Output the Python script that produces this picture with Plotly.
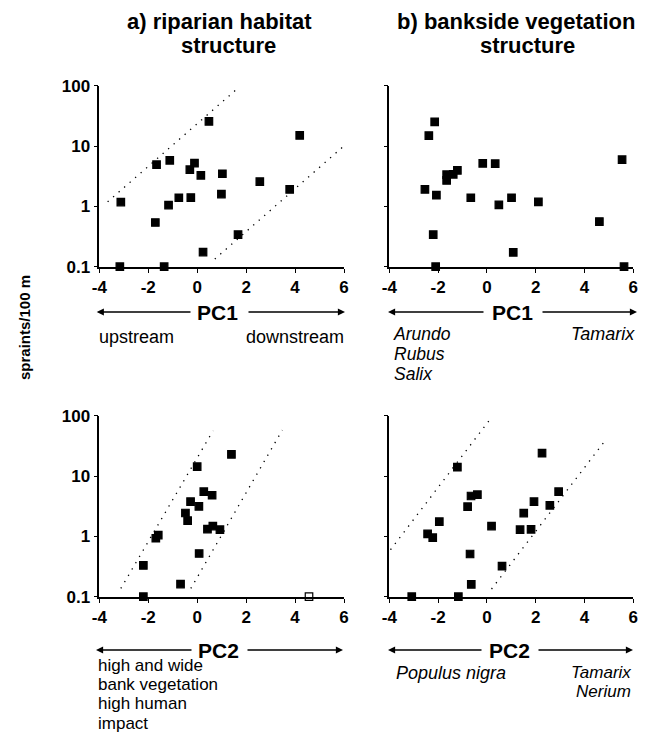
import plotly.graph_objects as go

# page is 654x741; the html body adds an 8px margin, so the figure is a bit smaller
PAGE_OFF = 8
W, H = 654 - 2 * PAGE_OFF, 741 - PAGE_OFF
FONT = "Liberation Sans, Arial, Helvetica, sans-serif"

# ---------------- data ----------------
# a) riparian habitat structure, PC1
a_x = [-3.12, -3.16, -1.35, -1.66, -1.12, -1.71, -1.17, -0.75, -0.26, -0.30,
       -0.11, 0.48, 0.15, 0.24, 1.03, 0.99, 1.67, 2.56, 3.78, 4.19]
a_y = [1.18, 0.1, 0.1, 4.9, 5.8, 0.54, 1.05, 1.39, 1.4, 4.05,
       5.2, 25.6, 3.27, 0.175, 3.47, 1.6, 0.34, 2.57, 1.91, 15.0]
a_upper_x = [-3.66, 1.61]
a_upper_y = [1.19, 87.0]
a_lower_x = [0.72, 6.43]
a_lower_y = [0.134, 14.3]

# b) bankside vegetation structure, PC1
b_x = [-2.14, -2.38, -2.54, -2.07, -2.20, -2.10, -1.65, -1.65, -1.38, -1.21,
       -0.66, -0.17, 0.34, 0.49, 1.01, 1.08, 2.11, 4.61, 5.54, 5.62]
b_y = [25.2, 14.9, 1.91, 1.53, 0.34, 0.1, 3.35, 2.69, 3.4, 3.95,
       1.39, 5.16, 5.1, 1.06, 1.39, 0.173, 1.19, 0.56, 5.94, 0.1]

# c) riparian habitat structure, PC2
c_x = [-2.20, -2.20, -1.69, -1.59, -0.68, -0.48, -0.39, -0.27, 0.0, 0.07,
       0.08, 0.27, 0.61, 0.42, 0.64, 0.93, 1.40]
c_y = [0.33, 0.1, 0.93, 1.05, 0.162, 2.44, 1.82, 3.76, 14.3, 3.14,
       0.52, 5.5, 4.8, 1.32, 1.48, 1.29, 22.9]
c_open_x = [4.57]
c_open_y = [0.1]
c_upper_x = [-3.12, 0.65]
c_upper_y = [0.137, 56.4]
c_lower_x = [-0.26, 3.48]
c_lower_y = [0.137, 57.8]

# d) bankside vegetation structure, PC2
d_x = [-3.08, -1.17, -2.43, -2.22, -1.95, -1.21, -0.79, -0.65, -0.39, -0.69,
       -0.64, 0.19, 0.62, 1.36, 1.51, 1.81, 1.93, 2.26, 2.58, 2.94]
d_y = [0.1, 0.1, 1.10, 0.95, 1.75, 14.0, 3.1, 4.67, 4.9, 0.51,
       0.16, 1.48, 0.32, 1.29, 2.43, 1.31, 3.76, 23.9, 3.27, 5.5]
d_upper_x = [-3.95, 0.19]
d_upper_y = [0.60, 93.8]
d_lower_x = [0.19, 4.84]
d_lower_y = [0.134, 38.4]

x_ticks = [-4, -2, 0, 2, 4, 6]
y_ticks = [0.1, 1, 10, 100]
y_ticktext = ["0.1", "1", "10", "100"]

# ---------------- figure ----------------
fig = go.Figure()

def px(x):
    return (x - PAGE_OFF) / W

def py(y):
    return 1 - (y - PAGE_OFF) / H

axes = {
    "a": ("x", "y"),
    "b": ("x2", "y2"),
    "c": ("x3", "y3"),
    "d": ("x4", "y4"),
}

def add_points(key, xs, ys, fill="black"):
    xa, ya = axes[key]
    fig.add_trace(go.Scatter(
        x=xs, y=ys, mode="markers", xaxis=xa, yaxis=ya, cliponaxis=False,
        marker=dict(symbol="square", size=7.5, color=fill,
                    line=dict(color="black", width=1.2)),
        hoverinfo="x+y"))

def add_line(key, xs, ys):
    xa, ya = axes[key]
    fig.add_trace(go.Scatter(
        x=xs, y=ys, mode="lines", xaxis=xa, yaxis=ya,
        line=dict(color="black", width=1.3, dash="1.3px,6px"),
        hoverinfo="skip"))

add_line("a", a_upper_x, a_upper_y)
add_line("a", a_lower_x, a_lower_y)
add_line("c", c_upper_x, c_upper_y)
add_line("c", c_lower_x, c_lower_y)
add_line("d", d_upper_x, d_upper_y)
add_line("d", d_lower_x, d_lower_y)
add_points("a", a_x, a_y)
add_points("b", b_x, b_y)
add_points("c", c_x, c_y)
add_points("c", c_open_x, c_open_y, fill="white")
add_points("d", d_x, d_y)

# domains from pixel positions (page pixels)
xl = [px(99.3), px(344.0)]
xr = [px(389.3), px(633.3)]
yt = [py(266.7), py(85.7)]
yb = [py(596.7), py(415.7)]

tickfont = dict(family=FONT, size=17, color="black", weight="bold")

def xaxis(domain, anchor):
    return dict(domain=domain, anchor=anchor, range=[-4, 6], tickvals=x_ticks,
                ticktext=[str(t) for t in x_ticks], showline=True,
                linecolor="black", linewidth=1.6, ticks="outside", ticklen=4,
                tickwidth=1.2, tickcolor="black", showgrid=False, zeroline=False,
                tickfont=tickfont, fixedrange=True, automargin=False)

def yaxis(domain, anchor, labels):
    return dict(domain=domain, anchor=anchor, type="log", range=[-1, 2],
                tickvals=y_ticks, ticktext=y_ticktext, showticklabels=labels,
                showline=True, linecolor="black", linewidth=1.6, ticks="outside",
                ticklen=4, tickwidth=1.2, tickcolor="black", showgrid=False,
                zeroline=False, tickfont=tickfont, fixedrange=True,
                automargin=False)

fig.update_layout(
    template="none",
    width=W, height=H, margin=dict(l=0, r=0, t=0, b=0, pad=0, autoexpand=False),
    paper_bgcolor="white", plot_bgcolor="white", showlegend=False,
    font=dict(family=FONT, color="black"),
    xaxis=xaxis(xl, "y"), yaxis=yaxis(yt, "x", True),
    xaxis2=xaxis(xr, "y2"), yaxis2=yaxis(yt, "x2", False),
    xaxis3=xaxis(xl, "y3"), yaxis3=yaxis(yb, "x3", True),
    xaxis4=xaxis(xr, "y4"), yaxis4=yaxis(yb, "x4", False),
)

ann = []

def text(s, x, y, size, xanchor="center", bold=False, italic=False, angle=0,
         align="left"):
    t = s
    if bold:
        t = "<b>" + t + "</b>"
    if italic:
        t = "<i>" + t + "</i>"
    ann.append(dict(text=t, x=px(x), y=py(y), xref="paper", yref="paper",
                    xanchor=xanchor, yanchor="middle", showarrow=False,
                    textangle=angle, align=align,
                    font=dict(family=FONT, size=size, color="black")))

def block(lines, x, y, size, spacing, xanchor="left", italic=False):
    # multi-line text with tight line spacing: base size sets the line pitch
    base = spacing / 1.3
    parts = []
    for ln in lines:
        s = '<span style="font-size:%gpx">%s</span>' % (size, ln)
        if italic:
            s = "<i>" + s + "</i>"
        parts.append(s)
    ann.append(dict(text="<br>".join(parts), x=px(x), y=py(y), xref="paper",
                    yref="paper", xanchor=xanchor, yanchor="middle",
                    showarrow=False, align=xanchor,
                    font=dict(family=FONT, size=base, color="black")))

def arrow(head, tail, y):
    ann.append(dict(text="", x=px(head), y=py(y), xref="paper", yref="paper",
                    ax=tail - head, ay=0, axref="pixel", ayref="pixel",
                    showarrow=True, arrowhead=2, arrowsize=1.1, arrowwidth=1.3,
                    arrowcolor="black", standoff=0, startstandoff=0))

# titles
text("a) riparian habitat", 219, 22, 22, bold=True)
text("structure", 228, 46, 22, bold=True)
text("b) bankside vegetation", 516, 22, 22, bold=True)
text("structure", 527, 46, 22, bold=True)

# y-axis title
text("spraints/100 m", 25, 328, 15, bold=True, angle=-90)

# PC axes
arrow(96.7, 192, 312)
arrow(345, 247, 312)
text("PC1", 217.5, 312, 21, bold=True)
text("upstream", 96.5, 337, 18, xanchor="left")
text("downstream", 346, 337, 18, xanchor="right")

arrow(388, 485, 312)
arrow(637, 541, 312)
text("PC1", 512.5, 312, 21, bold=True)
block(["Arundo", "Rubus", "Salix"], 391, 354, 17.5, 20, italic=True)
text("Tamarix", 637, 334, 18, xanchor="right", italic=True)

arrow(96, 193, 650)
arrow(343, 246, 650)
text("PC2", 218.5, 650, 21, bold=True)
block(["high and wide", "bank vegetation", "high human", "impact"],
      96, 694.5, 17, 19.2)

arrow(388, 483, 650)
arrow(633, 537, 650)
text("PC2", 509.5, 650, 21, bold=True)
text("Populus nigra", 394, 673, 18, xanchor="left", italic=True)
block(["Tamarix", "Nerium"], 633, 682, 17, 19.2, xanchor="right", italic=True)

fig.update_layout(annotations=ann)
fig.write_html("out.html")
